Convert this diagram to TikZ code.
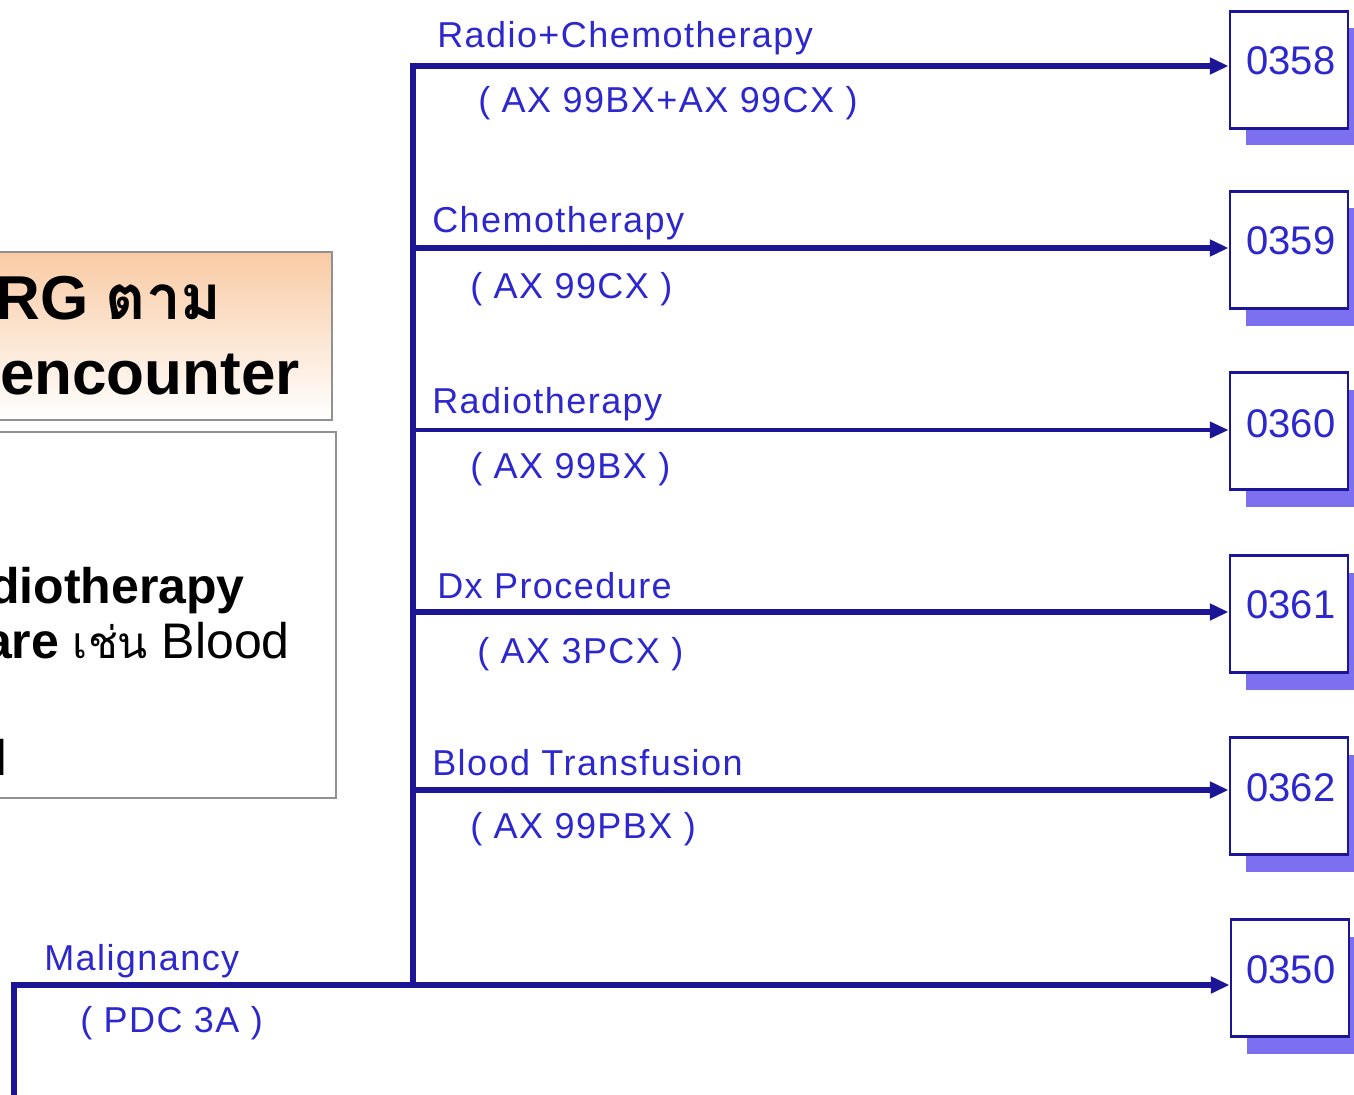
\documentclass[tikz,border=0pt]{standalone}
\usepackage{fontspec}
\setmainfont{Liberation Sans}
\newfontfamily\thaifont[Script=Thai]{Loma}
\newfontfamily\labfont[LetterSpace=4]{Liberation Sans}
\usetikzlibrary{arrows.meta,shadows}
\definecolor{navy}{RGB}{28,22,150}
\definecolor{labblue}{RGB}{45,40,205}
\definecolor{shadowblue}{RGB}{125,112,240}
\definecolor{peach}{RGB}{249,203,164}
\definecolor{boxgray}{RGB}{145,145,145}
\begin{document}
\begin{tikzpicture}[x=0.75pt,y=-0.75pt,
  numbox/.style={draw=navy, line width=2.2pt, fill=white, inner sep=0pt,
    minimum width=88.5pt, minimum height=87.75pt,
    drop shadow={shadow xshift=12pt, shadow yshift=-12.75pt, fill=shadowblue, opacity=1}},
  numtext/.style={font=\fontsize{30}{32}\selectfont, text=labblue, inner sep=0pt},
  lab/.style={font=\labfont\fontsize{27}{30}\selectfont, text=labblue, inner sep=0pt, anchor=base west},
  line/.style={draw=navy, line width=4.5pt, line join=miter},
  arr/.style={line, -{Triangle[length=14pt,width=12pt]}},
  leftbox/.style={draw=boxgray, line width=1.5pt, inner sep=0pt, anchor=north west},
  bigtext/.style={inner sep=0pt, anchor=base east, text=black}
]
\clip (0,0) rectangle (1354,1095);
\fill[white] (0,0) rectangle (1354,1095);

% left boxes
\node[leftbox, top color=peach, bottom color=white, minimum width=252pt, minimum height=126pt] (titlebox) at (-5,251) {};
\node[leftbox, fill=white, minimum width=255pt, minimum height=274.5pt] (infobox) at (-5,431) {};
\node[bigtext, font=\bfseries\fontsize{46.5}{52}\selectfont] (t1) at (222,320) {RG {\thaifont\bfseries ตาม}};
\node[bigtext, font=\bfseries\fontsize{46.5}{52}\selectfont] (t2) at (300,394) {encounter};
\node[bigtext, font=\fontsize{37.5}{42}\selectfont] (i1) at (245,603) {\bfseries diotherapy};
\node[bigtext, font=\fontsize{37.5}{42}\selectfont] (i2) at (290,658) {{\bfseries are} {\thaifont\fontsize{33}{40}\selectfont เช่น} Blood};
\node[bigtext, font=\fontsize{37.5}{42}\selectfont] (i3) at (8,775) {\bfseries l};

% number boxes
\node[numbox] (b358) at (1289,70) {};
\node[numbox] (b359) at (1289,250) {};
\node[numbox] (b360) at (1289,431) {};
\node[numbox] (b361) at (1289,614) {};
\node[numbox] (b362) at (1289,796) {};
\node[numbox] (b350) at (1290,978) {};
\node[numtext] (n358) at (1291,61) {0358};
\node[numtext] (n359) at (1291,241) {0359};
\node[numtext] (n360) at (1291,424) {0360};
\node[numtext] (n361) at (1291,605) {0361};
\node[numtext] (n362) at (1291,788) {0362};
\node[numtext] (n350) at (1291,970) {0350};

% junction coordinates
\coordinate (j1) at (413,66);
\coordinate (j2) at (413,248);
\coordinate (j3) at (413,430);
\coordinate (j4) at (413,612);
\coordinate (j5) at (413,790);
\coordinate (j6) at (413,985);
\coordinate (mc) at (14,985);
\coordinate (mb) at (14,1110);

% connectors
\draw[line] (j6) -- (j1) -- ([xshift=-10pt]j1 -| b358.west);
\draw[arr] ([xshift=-12pt]j1 -| b358.west) -- (j1 -| b358.west);
\draw[arr] (j2) -- (j2 -| b359.west);
\draw[arr, line width=3pt] (j3) -- (j3 -| b360.west);
\draw[arr] (j4) -- (j4 -| b361.west);
\draw[arr] (j5) -- (j5 -| b362.west);
\draw[arr] (mb) -- (mc) -- (mc -| b350.west);

% labels
\node[lab] (l1) at (437,48) {Radio+Chemotherapy};
\node[lab] (l1s) at (478,113) {( AX 99BX+AX 99CX )};
\node[lab] (l2) at (432,233) {Chemotherapy};
\node[lab] (l2s) at (470,298) {( AX 99CX )};
\node[lab] (l3) at (432,413) {Radiotherapy};
\node[lab] (l3s) at (470,478) {( AX 99BX )};
\node[lab] (l4) at (437,598) {Dx Procedure};
\node[lab] (l4s) at (477,663) {( AX 3PCX )};
\node[lab] (l5) at (432,775) {Blood Transfusion};
\node[lab] (l5s) at (470,838) {( AX 99PBX )};
\node[lab] (l6) at (44,970) {Malignancy};
\node[lab] (l6s) at (80,1032) {( PDC 3A )};
\end{tikzpicture}
\end{document}
